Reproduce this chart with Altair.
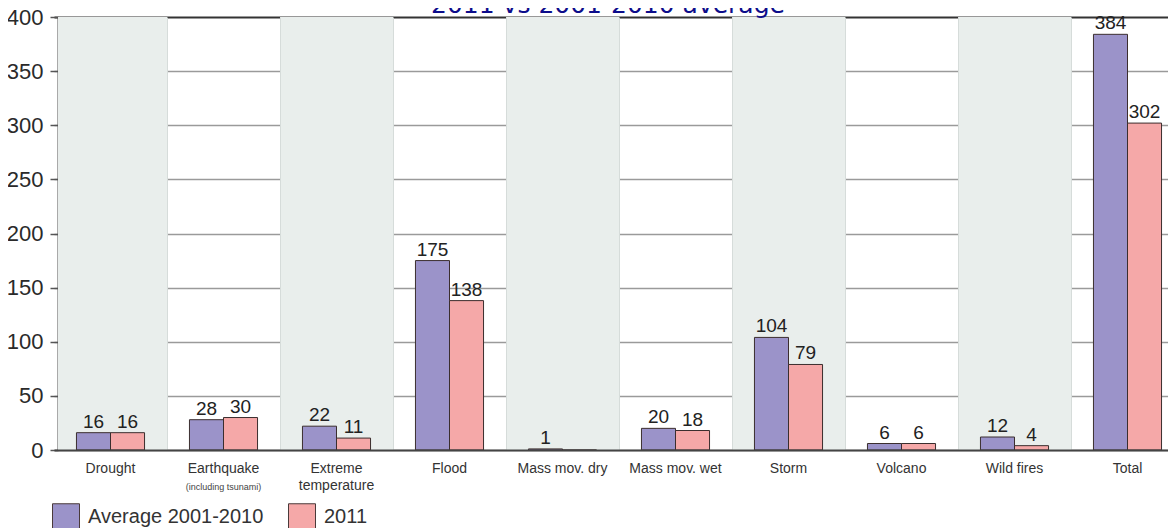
import altair as alt
import pandas as pd

categories = ["Drought", "Earthquake", "Extreme temperature", "Flood", "Mass mov. dry",
              "Mass mov. wet", "Storm", "Volcano", "Wild fires", "Total"]
avg_2001_2010 = [16, 28, 22, 175, 1, 20, 104, 6, 12, 384]
y_2011 = [16, 30, 11, 138, 0, 18, 79, 6, 4, 302]
series = ["Average 2001-2010", "2011"]
shaded = ["Drought", "Extreme temperature", "Mass mov. dry", "Storm", "Wild fires"]
y_ticks = [0, 50, 100, 150, 200, 250, 300, 350, 400]
title_text = "2011 vs 2001-2010 average"
sub_labels = {"Earthquake": "(including tsunami)"}

rows = []
for c, a, b in zip(categories, avg_2001_2010, y_2011):
    rows.append({"cat": c, "series": series[0], "value": a})
    rows.append({"cat": c, "series": series[1], "value": b})
df = pd.DataFrame(rows)
shade_df = pd.DataFrame({"cat": shaded})
sub_df = pd.DataFrame({"cat": list(sub_labels.keys()), "sub": list(sub_labels.values())})
title_df = pd.DataFrame({"t": [title_text]})

W, H = 1110, 433

xscale = alt.Scale(domain=categories, range=[-4, 1126], paddingInner=0, paddingOuter=0)
yscale = alt.Scale(domain=[0, 400], nice=False)

x_axis = alt.Axis(
    title=None, ticks=False, grid=True, bandPosition=0,
    gridColor={"condition": {"test": "datum.value === 'Drought'", "value": "transparent"}, "value": "#d6dcda"},
    gridWidth=1,
    domain=True, domainColor="#444", domainWidth=2,
    labelFont="Liberation Sans", labelFontSize=14, labelColor="#333", labelPadding=11,
    labelAngle=0, labelBaseline="top", labelLineHeight=17,
    labelExpr="datum.value === 'Extreme temperature' ? ['Extreme', 'temperature'] : datum.value",
)
y_axis = alt.Axis(
    title=None, values=y_ticks, grid=True,
    gridColor={"condition": {"test": "datum.value === 400", "value": "#333"}, "value": "#9a9a9a"},
    gridWidth={"condition": {"test": "datum.value === 400", "value": 2}, "value": 1.3},
    domain=True, domainColor="#555", domainWidth=2,
    tickColor="#555", tickSize=8, tickWidth=1.5,
    labelFont="Liberation Sans", labelFontSize=22, labelColor="#2a2a2a", labelPadding=7,
)

bands = alt.Chart(shade_df).mark_rect(color="#e9eeec", clip=True).encode(
    x=alt.X("cat:N", scale=xscale, axis=x_axis, sort=categories),
    y=alt.datum(400, scale=yscale, axis=y_axis),
    y2=alt.datum(0),
)

bars = alt.Chart(df).mark_bar(stroke="#3b2e2e", strokeWidth=1, clip=True).encode(
    x=alt.X("cat:N", scale=xscale, sort=categories),
    xOffset=alt.XOffset("series:N", sort=series,
                        scale=alt.Scale(domain=series, paddingInner=0, paddingOuter=0.66)),
    y=alt.Y("value:Q", scale=yscale),
    color=alt.Color("series:N", sort=series,
                    scale=alt.Scale(domain=series, range=["#9b93c9", "#f5a8a8"]),
                    legend=alt.Legend(
                        title=None, orient="none", legendX=-6, legendY=486,
                        direction="horizontal", symbolType="square", symbolSize=729,
                        symbolStrokeColor="#4a3a3a", symbolStrokeWidth=1, symbolOpacity=1,
                        labelFont="Liberation Sans", labelFontSize=20, labelColor="#333",
                        labelOffset=8, labelLimit=400, columnPadding=22, padding=0,
                    )),
)

labels = alt.Chart(df).transform_filter("datum.value > 0").mark_text(
    baseline="bottom", dy=-1, font="Liberation Sans", fontSize=19, color="#222"
).encode(
    x=alt.X("cat:N", scale=xscale, sort=categories),
    xOffset=alt.XOffset("series:N", sort=series,
                        scale=alt.Scale(domain=series, paddingInner=0, paddingOuter=0.66)),
    y=alt.Y("value:Q", scale=yscale),
    text=alt.Text("value:Q"),
)

subs = alt.Chart(sub_df).mark_text(
    baseline="middle", font="Liberation Sans", fontSize=9, color="#444"
).encode(
    x=alt.X("cat:N", scale=xscale, sort=categories),
    y=alt.value(H + 37),
    text="sub:N",
)

title = alt.Chart(title_df).mark_text(
    baseline="alphabetic", font="DejaVu Sans", fontSize=25, color="#0c0c8a"
).encode(
    x=alt.value(550),
    y=alt.value(-4),
    text="t:N",
)

chart = alt.layer(bands, bars, labels, subs, title).properties(
    width=W, height=H,
    padding={"left": 50, "top": 9, "right": 0, "bottom": 78},
    autosize=alt.AutoSizeParams(type="none"),
).configure_view(stroke=None).configure(background="white")

chart.save("out.html", embed_options={"renderer": "svg", "actions": False})
